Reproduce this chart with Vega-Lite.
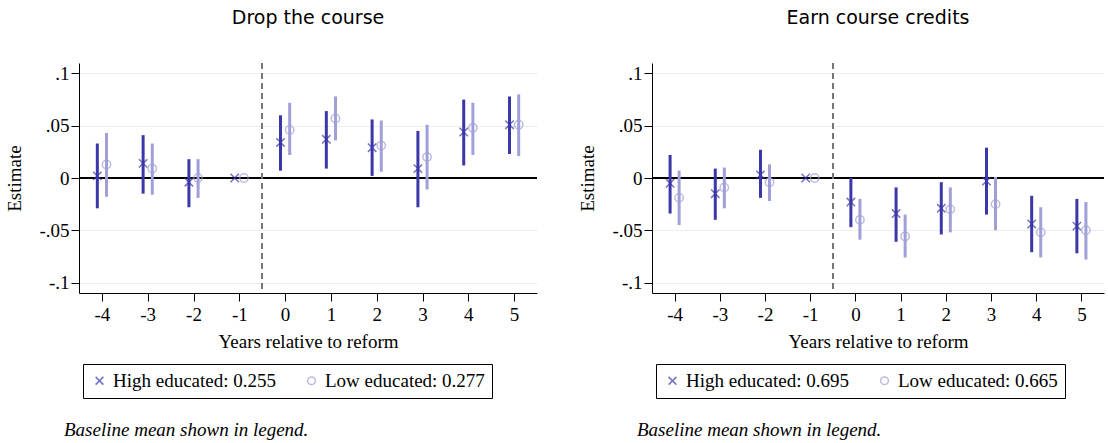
{
"$schema":"https://vega.github.io/schema/vega-lite/v6.json",
"background":"white",
"padding":{"left":5,"top":9,"right":2,"bottom":0},
"config":{"view":{"stroke":null},"font":"Liberation Serif",
"legend":{"labelFont":"Liberation Serif","labelFontSize":19,"labelColor":"black","labelLimit":400},
"title":{"font":"DejaVu Sans","fontSize":19,"fontWeight":"normal","color":"black"}},
"datasets":{
"drop":[
{"year":-4,"grp":"High","est":0.002,"lo":-0.029,"hi":0.033},
{"year":-3,"grp":"High","est":0.014,"lo":-0.015,"hi":0.041},
{"year":-2,"grp":"High","est":-0.004,"lo":-0.028,"hi":0.018},
{"year":-1,"grp":"High","est":0,"lo":0,"hi":0},
{"year":0,"grp":"High","est":0.034,"lo":0.007,"hi":0.060},
{"year":1,"grp":"High","est":0.037,"lo":0.009,"hi":0.064},
{"year":2,"grp":"High","est":0.029,"lo":0.002,"hi":0.056},
{"year":3,"grp":"High","est":0.009,"lo":-0.028,"hi":0.045},
{"year":4,"grp":"High","est":0.044,"lo":0.012,"hi":0.075},
{"year":5,"grp":"High","est":0.051,"lo":0.023,"hi":0.078},
{"year":-4,"grp":"Low","est":0.013,"lo":-0.018,"hi":0.043},
{"year":-3,"grp":"Low","est":0.009,"lo":-0.016,"hi":0.033},
{"year":-2,"grp":"Low","est":0.0,"lo":-0.019,"hi":0.018},
{"year":-1,"grp":"Low","est":0,"lo":0,"hi":0},
{"year":0,"grp":"Low","est":0.046,"lo":0.022,"hi":0.072},
{"year":1,"grp":"Low","est":0.057,"lo":0.036,"hi":0.078},
{"year":2,"grp":"Low","est":0.031,"lo":0.006,"hi":0.055},
{"year":3,"grp":"Low","est":0.020,"lo":-0.011,"hi":0.051},
{"year":4,"grp":"Low","est":0.048,"lo":0.022,"hi":0.072},
{"year":5,"grp":"Low","est":0.051,"lo":0.021,"hi":0.080}],
"earn":[
{"year":-4,"grp":"High","est":-0.005,"lo":-0.034,"hi":0.022},
{"year":-3,"grp":"High","est":-0.015,"lo":-0.040,"hi":0.009},
{"year":-2,"grp":"High","est":0.003,"lo":-0.019,"hi":0.027},
{"year":-1,"grp":"High","est":0,"lo":0,"hi":0},
{"year":0,"grp":"High","est":-0.023,"lo":-0.047,"hi":0.0},
{"year":1,"grp":"High","est":-0.034,"lo":-0.061,"hi":-0.009},
{"year":2,"grp":"High","est":-0.029,"lo":-0.054,"hi":-0.004},
{"year":3,"grp":"High","est":-0.003,"lo":-0.035,"hi":0.029},
{"year":4,"grp":"High","est":-0.044,"lo":-0.071,"hi":-0.017},
{"year":5,"grp":"High","est":-0.046,"lo":-0.072,"hi":-0.020},
{"year":-4,"grp":"Low","est":-0.019,"lo":-0.045,"hi":0.007},
{"year":-3,"grp":"Low","est":-0.009,"lo":-0.029,"hi":0.010},
{"year":-2,"grp":"Low","est":-0.004,"lo":-0.022,"hi":0.013},
{"year":-1,"grp":"Low","est":0,"lo":0,"hi":0},
{"year":0,"grp":"Low","est":-0.040,"lo":-0.059,"hi":-0.020},
{"year":1,"grp":"Low","est":-0.056,"lo":-0.076,"hi":-0.035},
{"year":2,"grp":"Low","est":-0.030,"lo":-0.052,"hi":-0.009},
{"year":3,"grp":"Low","est":-0.025,"lo":-0.050,"hi":0.001},
{"year":4,"grp":"Low","est":-0.052,"lo":-0.076,"hi":-0.028},
{"year":5,"grp":"Low","est":-0.050,"lo":-0.078,"hi":-0.023}]
},
"hconcat":[
{"vconcat":[
{"title":{"text":"Drop the course","offset":34},
"width":458,"height":230,
"data":{"name":"drop"},
"transform":[{"calculate":"datum.year + (datum.grp=='High' ? -0.1 : 0.1)","as":"xo"}],
"encoding":{
"x":{"field":"xo","type":"quantitative","scale":{"domain":[-4.5,5.5],"nice":false,"zero":false},"axis":{"values":[-4,-3,-2,-1,0,1,2,3,4,5],"labelExpr":"replace(datum.label,'−','-')","grid":false,"title":"Years relative to reform","tickSize":8,"labelPadding":4,"titlePadding":8,"labelFont":"Liberation Serif","titleFont":"Liberation Serif","labelFontSize":19,"titleFontSize":19,"labelColor":"black","titleColor":"black","domainColor":"black","tickColor":"black","titleFontWeight":"normal"}},
"y":{"field":"est","type":"quantitative","scale":{"domain":[-0.11,0.11],"nice":false},"axis":{"values":[-0.1,-0.05,0,0.05,0.1],"labelExpr":"datum.value==0?'0':replace(replace(format(datum.value,'.2~f'),'0.','.'),'−','-')","gridColor":"#e8f0f3","tickSize":8,"title":"Estimate","titlePadding":14,"labelFont":"Liberation Serif","titleFont":"Liberation Serif","labelFontSize":19,"titleFontSize":19,"labelColor":"black","titleColor":"black","domainColor":"black","tickColor":"black","titleFontWeight":"normal"}},
"color":{"field":"grp","type":"nominal","scale":{"domain":["High","Low"],"range":["#3b37a8","#a19fd8"]},"legend":{"title":null,"orient":"none","legendX":4,"legendY":301,"direction":"horizontal","strokeColor":"#000","padding":7,"columnPadding":25,"labelExpr":"datum.value=='High'?'High educated: 0.255':'Low educated: 0.277'","symbolStrokeWidth":1.5,"symbolSize":60}}
},
"layer":[
{"mark":{"type":"rule","color":"black","strokeWidth":1.3},"encoding":{"y":{"datum":0},"x":null,"color":null}},
{"mark":{"type":"rule","color":"#777","strokeDash":[6,4],"strokeWidth":1.3},"encoding":{"x":{"datum":-0.5},"y":null,"color":null}},
{"mark":{"type":"rule","strokeWidth":3},"encoding":{"y":{"field":"lo","type":"quantitative"},"y2":{"field":"hi"}}},
{"mark":{"type":"point","filled":false,"size":70,"strokeWidth":1.5},"encoding":{
"shape":{"field":"grp","type":"nominal","scale":{"domain":["High","Low"],"range":["M-1,-1L1,1M-1,1L1,-1","circle"]},"legend":null}}}
]},
{"width":458,"height":1,"data":{"values":[{}]},"mark":{"type":"text","text":""},
"title":{"text":"Baseline mean shown in legend.","anchor":"start","orient":"bottom","font":"Liberation Serif","fontStyle":"italic","fontSize":19,"fontWeight":"normal","offset":0,"dx":-15}}
],"spacing":58},
{"vconcat":[
{"title":{"text":"Earn course credits","offset":34},
"width":452,"height":230,
"data":{"name":"earn"},
"transform":[{"calculate":"datum.year + (datum.grp=='High' ? -0.1 : 0.1)","as":"xo"}],
"encoding":{
"x":{"field":"xo","type":"quantitative","scale":{"domain":[-4.5,5.5],"nice":false,"zero":false},"axis":{"values":[-4,-3,-2,-1,0,1,2,3,4,5],"labelExpr":"replace(datum.label,'−','-')","grid":false,"title":"Years relative to reform","tickSize":8,"labelPadding":4,"titlePadding":8,"labelFont":"Liberation Serif","titleFont":"Liberation Serif","labelFontSize":19,"titleFontSize":19,"labelColor":"black","titleColor":"black","domainColor":"black","tickColor":"black","titleFontWeight":"normal"}},
"y":{"field":"est","type":"quantitative","scale":{"domain":[-0.11,0.11],"nice":false},"axis":{"values":[-0.1,-0.05,0,0.05,0.1],"labelExpr":"datum.value==0?'0':replace(replace(format(datum.value,'.2~f'),'0.','.'),'−','-')","gridColor":"#e8f0f3","tickSize":8,"title":"Estimate","titlePadding":14,"labelFont":"Liberation Serif","titleFont":"Liberation Serif","labelFontSize":19,"titleFontSize":19,"labelColor":"black","titleColor":"black","domainColor":"black","tickColor":"black","titleFontWeight":"normal"}},
"color":{"field":"grp","type":"nominal","scale":{"domain":["High","Low"],"range":["#3b37a8","#a19fd8"]},"legend":{"title":null,"orient":"none","legendX":4,"legendY":301,"direction":"horizontal","strokeColor":"#000","padding":7,"columnPadding":25,"labelExpr":"datum.value=='High'?'High educated: 0.695':'Low educated: 0.665'","symbolStrokeWidth":1.5,"symbolSize":60}}
},
"layer":[
{"mark":{"type":"rule","color":"black","strokeWidth":1.3},"encoding":{"y":{"datum":0},"x":null,"color":null}},
{"mark":{"type":"rule","color":"#777","strokeDash":[6,4],"strokeWidth":1.3},"encoding":{"x":{"datum":-0.5},"y":null,"color":null}},
{"mark":{"type":"rule","strokeWidth":3},"encoding":{"y":{"field":"lo","type":"quantitative"},"y2":{"field":"hi"}}},
{"mark":{"type":"point","filled":false,"size":70,"strokeWidth":1.5},"encoding":{
"shape":{"field":"grp","type":"nominal","scale":{"domain":["High","Low"],"range":["M-1,-1L1,1M-1,1L1,-1","circle"]},"legend":null}}}
]},
{"width":452,"height":1,"data":{"values":[{}]},"mark":{"type":"text","text":""},
"title":{"text":"Baseline mean shown in legend.","anchor":"start","orient":"bottom","font":"Liberation Serif","fontStyle":"italic","fontSize":19,"fontWeight":"normal","offset":0,"dx":-15}}
],"spacing":58}
],
"spacing":40,
"resolve":{"scale":{"color":"independent","shape":"independent"},"legend":{"color":"independent"}}
}
